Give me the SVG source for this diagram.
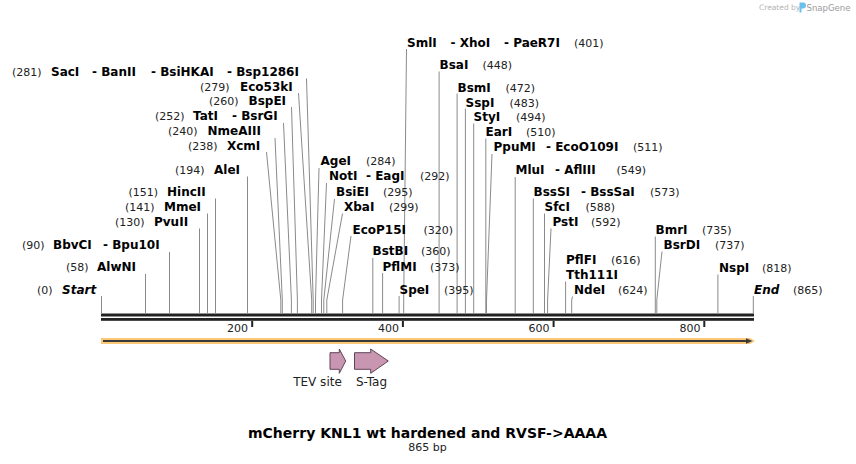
<svg xmlns="http://www.w3.org/2000/svg" width="856" height="464" viewBox="0 0 856 464">
<style>
.nm{font-family:"DejaVu Sans",Verdana,sans-serif;font-weight:bold;font-size:12px;fill:#000}
.it{font-style:italic}
.num{font-family:"DejaVu Sans",Verdana,sans-serif;font-size:11px;fill:#222}
.ln{stroke:#8a8a8a;stroke-width:1;fill:none}
.tk{font-family:"DejaVu Sans",Verdana,sans-serif;font-size:11px;fill:#222;text-anchor:end}
.ft{font-family:"DejaVu Sans",sans-serif;font-size:12px;fill:#222;text-anchor:middle}
.feat{fill:#c996b2;stroke:#5e4456;stroke-width:1}
</style>
<rect width="856" height="464" fill="#fff"/>

<g id="connectors">
<path class="ln" d="M101.5 296V313"/>
<path class="ln" d="M145.5 274V313"/>
<path class="ln" d="M169.5 252V313"/>
<path class="ln" d="M199.5 228.5V313"/>
<path class="ln" d="M207.5 213.5V313"/>
<path class="ln" d="M215.5 198.5V313"/>
<path class="ln" d="M247.5 176.5V313"/>
<path class="ln" d="M266.5 152L280.8 300V313"/>
<path class="ln" d="M275 138L282.3 300V313"/>
<path class="ln" d="M283.5 123L291.4 300V313"/>
<path class="ln" d="M291.5 107L297.4 300V313"/>
<path class="ln" d="M298.5 93L311.7 300V313"/>
<path class="ln" d="M306.5 78.5L313.2 300V313"/>
<path class="ln" d="M319 168L315.5 300V313"/>
<path class="ln" d="M326.5 183L321.5 300V313"/>
<path class="ln" d="M334.5 199L323.8 300V313"/>
<path class="ln" d="M342.5 213.5L326.8 300V313"/>
<path class="ln" d="M351 236L342.6 300V313"/>
<path class="ln" d="M372.8 258V313"/>
<path class="ln" d="M382.6 273V313"/>
<path class="ln" d="M399.1 296V313"/>
<path class="ln" d="M406.5 49L403.7 300V313"/>
<path class="ln" d="M439.1 71.5V313"/>
<path class="ln" d="M457.1 93.5V313"/>
<path class="ln" d="M465.4 108.5V313"/>
<path class="ln" d="M473.7 123.5V313"/>
<path class="ln" d="M485.8 138.5V313"/>
<path class="ln" d="M492 154L486.5 300V313"/>
<path class="ln" d="M515.2 177V313"/>
<path class="ln" d="M533.3 198.5V313"/>
<path class="ln" d="M544.5 213.5V313"/>
<path class="ln" d="M551 228.5L547.6 300V313"/>
<path class="ln" d="M565.6 281.5V313"/>
<path class="ln" d="M572.5 296.5L571.7 300V313"/>
<path class="ln" d="M655.3 236.5V313"/>
<path class="ln" d="M662 251.5L656.8 300V313"/>
<path class="ln" d="M717.9 274.5V313"/>
<path class="ln" d="M753.3 296V313"/>
</g>

<g id="ruler">
<rect x="101" y="313.5" width="653" height="3" fill="#222"/>
<rect x="101" y="318" width="653" height="2.8" fill="#222"/>
<rect x="251.2" y="321" width="2" height="6" fill="#222"/>
<rect x="401.9" y="321" width="2" height="6" fill="#222"/>
<rect x="552.6" y="321" width="2" height="6" fill="#222"/>
<rect x="703.3" y="321" width="2" height="6" fill="#222"/>
<text class="tk" x="248" y="332">200</text>
<text class="tk" x="399" y="332">400</text>
<text class="tk" x="549.5" y="332">600</text>
<text class="tk" x="700.5" y="332">800</text>
</g>

<g id="feature-backbone">
<polygon points="101,338 750,338 755,341 750,344 101,344" fill="#fac877"/>
<path d="M103 341H748" stroke="#3a3a3a" stroke-width="2"/>
<polygon points="746,338.3 752.5,341 746,343.7" fill="#3a3a3a"/>
</g>

<g id="tev-site">
<polygon class="feat" points="330,352.7 339.3,352.7 339.3,349 345.7,361 339.3,373.3 339.3,369.3 330,369.3"/>
<text class="ft" x="317.5" y="385.5">TEV site</text>
</g>
<g id="s-tag">
<polygon class="feat" points="354.5,352.7 370.7,352.7 370.7,349 388.3,361 370.7,373.3 370.7,369.3 354.5,369.3"/>
<text class="ft" x="371.5" y="385.5">S-Tag</text>
</g>

<g id="start"><text class="num" x="37" y="293.5">(0)</text><text class="nm it" x="62" y="293.5">Start</text></g>
<g id="alwni"><text class="num" x="66" y="271">(58)</text><text class="nm" x="97" y="271">AlwNI</text></g>
<g id="bbvci"><text class="num" x="22" y="249">(90)</text><text class="nm" x="53" y="249">BbvCI</text><text class="nm" x="103" y="249">- Bpu10I</text></g>
<g id="pvuii"><text class="num" x="115" y="226">(130)</text><text class="nm" x="154" y="226">PvuII</text></g>
<g id="mmei"><text class="num" x="125" y="211">(141)</text><text class="nm" x="164" y="211">MmeI</text></g>
<g id="hincii"><text class="num" x="128.5" y="196">(151)</text><text class="nm" x="167" y="196">HincII</text></g>
<g id="alei"><text class="num" x="175" y="173.5">(194)</text><text class="nm" x="214" y="173.5">AleI</text></g>
<g id="xcmi"><text class="num" x="188" y="150">(238)</text><text class="nm" x="227" y="150">XcmI</text></g>
<g id="nmeaiii"><text class="num" x="168" y="135">(240)</text><text class="nm" x="207.5" y="135">NmeAIII</text></g>
<g id="tati"><text class="num" x="155" y="120">(252)</text><text class="nm" x="193" y="120">TatI</text><text class="nm" x="232" y="120">- BsrGI</text></g>
<g id="bspei"><text class="num" x="209" y="105">(260)</text><text class="nm" x="248.5" y="105">BspEI</text></g>
<g id="eco53ki"><text class="num" x="200" y="90.5">(279)</text><text class="nm" x="240" y="90.5">Eco53kI</text></g>
<g id="saci"><text class="num" x="12" y="75.5">(281)</text><text class="nm" x="51" y="75.5">SacI</text><text class="nm" x="92" y="75.5">- BanII</text><text class="nm" x="151" y="75.5">- BsiHKAI</text><text class="nm" x="227" y="75.5">- Bsp1286I</text></g>

<g id="agei"><text class="nm" x="320.5" y="165">AgeI</text><text class="num" x="366" y="165">(284)</text></g>
<g id="noti"><text class="nm" x="329" y="180">NotI</text><text class="nm" x="366" y="180">- EagI</text><text class="num" x="420" y="180">(292)</text></g>
<g id="bsiei"><text class="nm" x="336" y="196">BsiEI</text><text class="num" x="383" y="196">(295)</text></g>
<g id="xbai"><text class="nm" x="344" y="211">XbaI</text><text class="num" x="389" y="211">(299)</text></g>
<g id="ecop15i"><text class="nm" x="352.5" y="233.5">EcoP15I</text><text class="num" x="423.5" y="233.5">(320)</text></g>
<g id="bstbi"><text class="nm" x="372.5" y="255">BstBI</text><text class="num" x="421" y="255">(360)</text></g>
<g id="pflmi"><text class="nm" x="382.5" y="270.5">PflMI</text><text class="num" x="430" y="270.5">(373)</text></g>
<g id="spei"><text class="nm" x="399.5" y="293.5">SpeI</text><text class="num" x="444" y="293.5">(395)</text></g>
<g id="smli"><text class="nm" x="407" y="46.5">SmlI</text><text class="nm" x="450.5" y="46.5">- XhoI</text><text class="nm" x="504" y="46.5">- PaeR7I</text><text class="num" x="574" y="46.5">(401)</text></g>
<g id="bsai"><text class="nm" x="439.5" y="69">BsaI</text><text class="num" x="482.5" y="69">(448)</text></g>
<g id="bsmi"><text class="nm" x="457.5" y="91.5">BsmI</text><text class="num" x="505.5" y="91.5">(472)</text></g>
<g id="sspi"><text class="nm" x="465.5" y="106.5">SspI</text><text class="num" x="509.5" y="106.5">(483)</text></g>
<g id="styi"><text class="nm" x="473.5" y="121">StyI</text><text class="num" x="516" y="121">(494)</text></g>
<g id="eari"><text class="nm" x="485.5" y="136">EarI</text><text class="num" x="526" y="136">(510)</text></g>
<g id="ppumi"><text class="nm" x="493.5" y="151">PpuMI</text><text class="nm" x="546" y="151">- EcoO109I</text><text class="num" x="633" y="151">(511)</text></g>
<g id="mlui"><text class="nm" x="515.5" y="174">MluI</text><text class="nm" x="555" y="174">- AflIII</text><text class="num" x="616.5" y="174">(549)</text></g>
<g id="bsssi"><text class="nm" x="533.5" y="196">BssSI</text><text class="nm" x="581" y="196">- BssSaI</text><text class="num" x="650" y="196">(573)</text></g>
<g id="sfci"><text class="nm" x="544.5" y="211">SfcI</text><text class="num" x="585.5" y="211">(588)</text></g>
<g id="psti"><text class="nm" x="552.5" y="226">PstI</text><text class="num" x="591" y="226">(592)</text></g>
<g id="pflfi"><text class="nm" x="566" y="264">PflFI</text><text class="num" x="611" y="264">(616)</text><text class="nm" x="566" y="279">Tth111I</text></g>
<g id="ndei"><text class="nm" x="574" y="294">NdeI</text><text class="num" x="618" y="294">(624)</text></g>
<g id="bmri"><text class="nm" x="655.5" y="234">BmrI</text><text class="num" x="702" y="234">(735)</text></g>
<g id="bsrdi"><text class="nm" x="663.5" y="249">BsrDI</text><text class="num" x="715" y="249">(737)</text></g>
<g id="nspi"><text class="nm" x="719" y="272">NspI</text><text class="num" x="762" y="272">(818)</text></g>
<g id="end"><text class="nm it" x="754" y="294">End</text><text class="num" x="793" y="294">(865)</text></g>

<g id="title">
<text x="248" y="437.5" font-family="DejaVu Sans,Verdana,sans-serif" font-weight="bold" font-size="13.5" fill="#000" textLength="359" lengthAdjust="spacingAndGlyphs">mCherry KNL1 wt hardened and RVSF-&gt;AAAA</text>
<text x="427.5" y="451" font-family="DejaVu Sans,Verdana,sans-serif" font-size="11" text-anchor="middle" fill="#222">865 bp</text>
</g>

<g id="credit">
<text x="759" y="10" font-family="DejaVu Sans,sans-serif" font-size="7.5" fill="#b4b4b4">Created by</text>
<path d="M799.5 2.5h3.5a3 3 0 0 1 0 6h-1.5v4h-2z" fill="#6cc0ee"/>
<text x="806.5" y="11" font-family="DejaVu Sans,sans-serif" font-size="9" fill="#9a9a9a" textLength="44" lengthAdjust="spacingAndGlyphs">SnapGene</text>
</g>
</svg>
